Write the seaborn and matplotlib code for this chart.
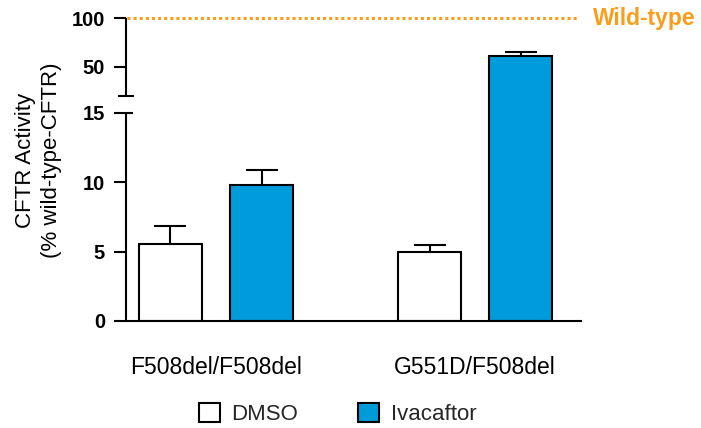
import numpy as np
import pandas as pd
import matplotlib
matplotlib.use("Agg")
import matplotlib.pyplot as plt
from matplotlib.patches import Patch
import seaborn as sns

# --- data -------------------------------------------------------------
genotypes = ["F508del/F508del", "G551D/F508del"]
treatments = ["DMSO", "Ivacaftor"]
dmso_mean = [5.55, 4.99]
dmso_sem = [1.3, 0.5]
ivacaftor_mean = [9.78, 61.4]
ivacaftor_sem = [1.1, 3.5]
wild_type_level = 100
y_ticks = [0, 5, 10, 15, 50, 100]

# broken y axis: the lower segment ends at BREAK_LOW, the upper resumes at BREAK_HIGH
BREAK_LOW, BREAK_HIGH = 15, 19.4

# --- styling ----------------------------------------------------------
sns.set_theme(style="white")
plt.rcParams["font.family"] = ["Liberation Sans", "DejaVu Sans"]
BLUE = "#009BDB"
ORANGE = "#F99D1C"
LW = 1.5

df = pd.DataFrame({
    "genotype": genotypes * 2,
    "treatment": [treatments[0]] * 2 + [treatments[1]] * 2,
    "activity": dmso_mean + ivacaftor_mean,
})
sems = {treatments[0]: dmso_sem, treatments[1]: ivacaftor_sem}
palette = {treatments[0]: "white", treatments[1]: BLUE}

fig = plt.figure(figsize=(7.01, 4.28), dpi=100)
ax = fig.add_axes([126 / 701, 1 - 321 / 428, 455 / 701, (321 - 18.3) / 428])

sns.barplot(
    data=df, x="genotype", y="activity", hue="treatment",
    order=genotypes, hue_order=treatments, palette=palette, saturation=1,
    errorbar=None, width=0.703, gap=0.31,
    edgecolor="black", linewidth=LW, ax=ax, legend=False,
)

# error bars (upper half only) on top of each bar
for container, treat in zip(ax.containers, treatments):
    for bar, err in zip(container, sems[treat]):
        xc = bar.get_x() + bar.get_width() / 2
        h = bar.get_height()
        _, caps, _ = ax.errorbar(
            xc, h, yerr=[[0], [err]], fmt="none", ecolor="black",
            elinewidth=LW, capsize=11.5, capthick=LW, zorder=1,
        )
        caps[0].set_visible(False)

# piecewise-linear y scale: compressed upper range above the break
knots_v = np.array([0, BREAK_LOW, BREAK_HIGH, 100.0])
knots_p = np.array([0, 208.2, 224.7, 302.7])
LOW_SLOPE, HIGH_SLOPE = 13.88, 0.968


def fwd(v):
    v = np.asarray(v, dtype=float)
    mid = np.interp(v, knots_v, knots_p)
    return np.where(v > 100, knots_p[-1] + (v - 100) * HIGH_SLOPE,
                    np.where(v < 0, v * LOW_SLOPE, mid))


def inv(p):
    p = np.asarray(p, dtype=float)
    mid = np.interp(p, knots_p, knots_v)
    return np.where(p > knots_p[-1], 100 + (p - knots_p[-1]) / HIGH_SLOPE,
                    np.where(p < 0, p / LOW_SLOPE, mid))


ax.set_yscale("function", functions=(fwd, inv))
ax.set_ylim(0, 100)
ax.set_xlim(-0.3475, 1.409)

ax.set_yticks(y_ticks)
ax.set_yticklabels([str(t) for t in y_ticks], fontsize=14.5, fontweight="bold")
ax.yaxis.set_minor_locator(plt.NullLocator())
ax.tick_params(axis="y", which="major", direction="out", length=8.6,
               width=LW, pad=6.5, left=True, colors="black")
ax.tick_params(axis="x", length=0, pad=25, labelsize=16.5, colors="black")
ax.set_xlabel("")

# spines: bottom kept, left redrawn as two segments with break caps
for s in ["top", "right", "left"]:
    ax.spines[s].set_visible(False)
ax.spines["bottom"].set_linewidth(LW)
ax.spines["bottom"].set_color("black")

ytr = ax.get_yaxis_transform()
seg = dict(transform=ytr, clip_on=False, color="black", lw=LW,
           solid_capstyle="butt")
ax.plot([0, 0], [0, BREAK_LOW], **seg)
ax.plot([0, 0], [BREAK_HIGH, 100], **seg)
ax.plot([-0.0176, 0.0176], [BREAK_HIGH, BREAK_HIGH], **seg)
ax.plot([0, 0.0154], [BREAK_LOW, BREAK_LOW], **seg)

# wild-type reference line
ax.plot([0.003, 0.991], [wild_type_level, wild_type_level], transform=ytr,
        clip_on=False, color=ORANGE, lw=2.2, linestyle=(0, (1, 1)))
ax.text(1.026, wild_type_level, "Wild-type", transform=ytr, color=ORANGE,
        fontsize=16.5, fontweight="bold", ha="left", va="center")

ax.set_ylabel("CFTR Activity\n(% wild-type-CFTR)", fontsize=16,
              linespacing=1.3, color="black")
ax.yaxis.set_label_coords(-0.1407, 0.53)

handles = [Patch(facecolor=palette[t], edgecolor="black", linewidth=LW)
           for t in treatments]
ax.legend(handles, treatments, loc="center", bbox_to_anchor=(0.4815, 0.033),
          bbox_transform=fig.transFigure, ncol=2, frameon=False,
          fontsize=16, handlelength=0.96, handleheight=0.96,
          handletextpad=0.5, columnspacing=2.7, borderpad=0)

fig.savefig("out.png", dpi=100)
